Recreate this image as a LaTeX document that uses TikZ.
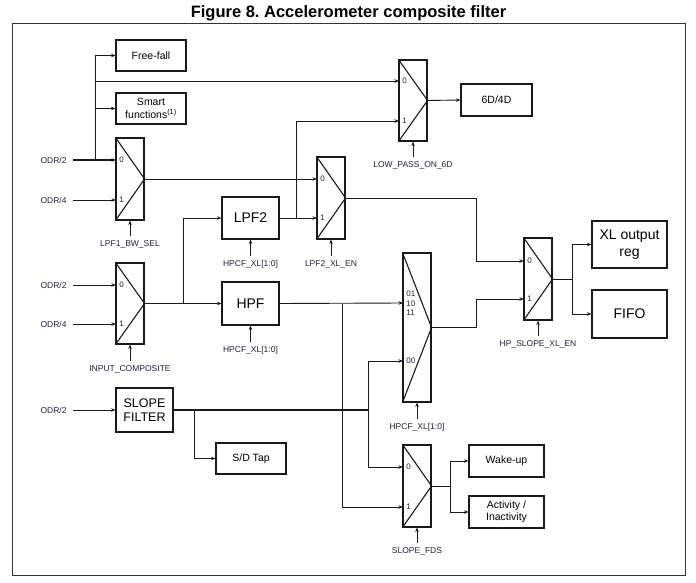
\documentclass[tikz,border=0pt]{standalone}
\usepackage{fontspec}
\setmainfont{Liberation Sans}
\usetikzlibrary{arrows.meta}
\definecolor{lbl}{HTML}{1C2340}
\definecolor{ink}{HTML}{1A1A1A}
\frenchspacing
\begin{document}
\begin{tikzpicture}[x=1pt,y=-1pt,
  line width=0.9pt, draw=ink,
  arr/.style={-{Stealth[length=4.5pt,width=3.5pt]}},
  bus/.style={line width=1.5pt},
  box/.style={draw=ink, line width=1.1pt, inner sep=0pt, align=center, font=\fontsize{10.5}{13}\selectfont},
  bigbox/.style={box, font=\fontsize{14}{17.5}\selectfont},
  mux/.style={draw=ink, line width=1.1pt, minimum width=28pt, minimum height=82pt, inner sep=0pt},
  sig/.style={font=\fontsize{8.5}{10}\selectfont, text=lbl, inner sep=1pt},
  port/.style={font=\fontsize{8}{10.5}\selectfont, text=lbl, anchor=west, inner sep=0pt, align=left}
]
\useasboundingbox (0,0) rectangle (696,583);

% title and frame
\node[font=\bfseries\fontsize{16.5}{20}\selectfont] (title) at (348.5,13) {Figure 8. Accelerometer composite filter};
\draw[line width=1pt, draw=black!80] (12,24) rectangle (685,575);

% boxes
\node[box, minimum width=70pt, minimum height=31pt] (ff) at (151,55.5) {Free-fall};
\node[box, minimum width=70pt, minimum height=31pt] (smart) at (151,108.5) {Smart\\functions\textsuperscript{(1)}};
\node[box, minimum width=71pt, minimum height=32pt] (d6) at (496.5,100) {6D/4D};
\node[bigbox, minimum width=57pt, minimum height=42pt] (lpf2) at (250.5,218) {LPF2};
\node[bigbox, minimum width=57pt, minimum height=43pt] (hpf) at (250.5,303.5) {HPF};
\node[box, font=\fontsize{12.5}{14.5}\selectfont, minimum width=57pt, minimum height=44pt] (slope) at (144.5,410) {SLOPE\\FILTER};
\node[box, minimum width=70pt, minimum height=31pt] (sd) at (251,458.5) {S/D Tap};
\node[bigbox, minimum width=75pt, minimum height=47pt] (xl) at (629.5,244.5) {XL output\\reg};
\node[bigbox, minimum width=75pt, minimum height=48pt] (fifo) at (629.5,314) {FIFO};
\node[box, minimum width=75pt, minimum height=32pt] (wake) at (506.5,461) {Wake-up};
\node[box, font=\fontsize{10.5}{12.5}\selectfont, minimum width=75pt, minimum height=32pt] (act) at (506.5,512) {Activity /\\Inactivity};

% multiplexers
\node[mux] (m1) at (130,179) {};
\node[mux, minimum height=81pt] (m6d) at (413,100.5) {};
\node[mux] (m2) at (331,198) {};
\node[mux, minimum height=81pt] (m3) at (130,303.5) {};
\node[mux, minimum height=149pt] (mbig) at (417,327.5) {};
\node[mux] (mhs) at (538,279) {};
\node[mux] (mfds) at (417,486) {};
\foreach \m in {m1,m6d,m2,m3,mbig,mhs,mfds}
  \draw[line width=1.1pt] (\m.north west) -- (\m.east) -- (\m.south west);

% mux ports
\coordinate (m1-0) at (116,160);   \coordinate (m1-1) at (116,200);
\coordinate (m6d-0) at (399,81);   \coordinate (m6d-1) at (399,121);
\coordinate (m2-0) at (317,179);   \coordinate (m2-1) at (317,218);
\coordinate (m3-0) at (116,285);   \coordinate (m3-1) at (116,324);
\coordinate (mbig-a) at (403,303); \coordinate (mbig-b) at (403,361);
\coordinate (mhs-0) at (524,261);  \coordinate (mhs-1) at (524,299);
\coordinate (mfds-0) at (403,467); \coordinate (mfds-1) at (403,507);

% port labels
\node[port] (p10) at (119,160) {0};
\node[port] (p11) at (119,200) {1};
\node[port] (p60) at (402,81) {0};
\node[port] (p61) at (402,121) {1};
\node[port] (p20) at (320,179) {0};
\node[port] (p21) at (320,218) {1};
\node[port] (p30) at (119,285) {0};
\node[port] (p31) at (119,324) {1};
\node[port] (pba) at (406,303.5) {01\\[-1.2pt]10\\[-1.2pt]11};
\node[port] (pbb) at (406,361) {00};
\node[port] (ph0) at (527,261) {0};
\node[port] (ph1) at (527,299) {1};
\node[port] (pf0) at (406,467) {0};
\node[port] (pf1) at (406,507) {1};

% input labels
\node[sig, anchor=east] (i1) at (68,160) {ODR/2};
\node[sig, anchor=east] (i2) at (68,200) {ODR/4};
\node[sig, anchor=east] (i3) at (68,285) {ODR/2};
\node[sig, anchor=east] (i4) at (68,324) {ODR/4};
\node[sig, anchor=east] (i5) at (68,410) {ODR/2};

% control labels
\node[sig] (c1) at (130,244) {LPF1\_BW\_SEL};
\node[sig] (c2) at (413,165) {LOW\_PASS\_ON\_6D};
\node[sig] (c3) at (250.5,264) {HPCF\_XL[1:0]};
\node[sig] (c4) at (331,264) {LPF2\_XL\_EN};
\node[sig] (c5) at (130,369) {INPUT\_COMPOSITE};
\node[sig] (c6) at (250.5,350) {HPCF\_XL[1:0]};
\node[sig] (c7) at (417,427) {HPCF\_XL[1:0]};
\node[sig] (c8) at (538,344) {HP\_SLOPE\_XL\_EN};
\node[sig] (c9) at (417,551) {SLOPE\_FDS};
\draw[arr] ([yshift=3pt]c1.north) -- (m1.south);
\draw[arr] ([yshift=3pt]c2.north) -- (m6d.south);
\draw[arr] ([yshift=3pt]c3.north) -- (lpf2.south);
\draw[arr] ([yshift=3pt]c4.north) -- (m2.south);
\draw[arr] ([yshift=3pt]c5.north) -- (m3.south);
\draw[arr] ([yshift=3pt]c6.north) -- (hpf.south);
\draw[arr] ([yshift=3pt]c7.north) -- (mbig.south);
\draw[arr] ([yshift=3pt]c8.north) -- (mhs.south);
\draw[arr] ([yshift=3pt]c9.north) -- (mfds.south);

% inputs
\draw[arr, bus] ([xshift=5pt]i1.east) -- (m1-0);
\draw[arr] ([xshift=5pt]i2.east) -- (m1-1);
\draw[arr] ([xshift=5pt]i3.east) -- (m3-0);
\draw[arr] ([xshift=5pt]i4.east) -- (m3-1);
\draw[arr] ([xshift=5pt]i5.east) -- (slope.west);

% ODR/2 branches
\coordinate (j1) at (95,160);
\draw[arr] (j1) |- (ff.west);
\draw[arr] (j1) |- (smart.west);
\draw[arr] (j1) |- (m6d-0);

% LPF1 mux to LPF2 enable mux
\draw[arr] (m1.east) -- (m2-0);

% LPF2 output
\coordinate (j2) at (296,218);
\draw[arr] (lpf2.east) -- (m2-1);
\draw[arr] (j2) |- (m6d-1);

% 6D mux
\draw[arr] (m6d.east) -- (d6.west);

% input composite mux
\coordinate (j3) at (183,303.5);
\draw[arr] (m3.east) -- (hpf.west);
\draw[arr] (j3) |- (lpf2.west);

% HPF output
\coordinate (j4) at (342,303.5);
\draw[arr] (hpf.east) -- (mbig-a);
\draw[arr] (j4) |- (mfds-1);

% slope filter output
\coordinate (j5) at (368,410);
\coordinate (j6) at (194,410);
\draw[bus] (slope.east) -- (j5);
\draw[arr] (j6) |- (sd.west);
\draw[arr] (j5) |- (mbig-b);
\draw[arr] (j5) |- (mfds-0);

% to HP_SLOPE mux
\coordinate (k1) at (476,261);
\coordinate (k2) at (476,299);
\draw[arr] (m2.east) -| (k1) -- (mhs-0);
\draw[arr] (mbig.east) -| (k2) -- (mhs-1);

% HP_SLOPE output
\coordinate (j7) at (572,279);
\draw (mhs.east) -- (j7);
\draw[arr] (j7) |- (xl.west);
\draw[arr] (j7) |- (fifo.west);

% SLOPE_FDS output
\coordinate (j8) at (450,486);
\draw (mfds.east) -- (j8);
\draw[arr] (j8) |- (wake.west);
\draw[arr] (j8) |- (act.west);
\end{tikzpicture}
\end{document}
